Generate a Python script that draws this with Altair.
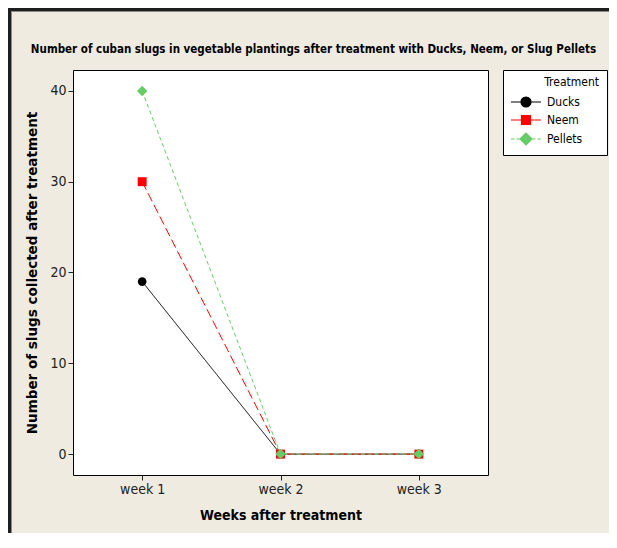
import altair as alt
import pandas as pd

# ---- data ----
weeks = ["week 1", "week 2", "week 3"]
treatments = ["Ducks", "Neem", "Pellets"]
ducks = [19, 0, 0]
neem = [30, 0, 0]
pellets = [40, 0, 0]
y_ticks = [0, 10, 20, 30, 40]

# ---- styles ----
series_colors = ["#000000", "#FF0000", "#66CC66"]
series_dashes = [[1, 0], [9, 4], [4, 3]]
series_shapes = ["circle", "square", "diamond"]
series_sizes = [75, 80, 110]
# legend symbols: line segments + marker (unit = 6px, symbol size 144)
legend_paths = [
    "M-1,0H0.667M2.333,0H4M0.667,0A0.833,0.833 0 1,0 2.333,0A0.833,0.833 0 1,0 0.667,0Z",
    "M-1,0H0.75M2.25,0H4M0.75,-0.75H2.25V0.75H0.75Z",
    "M-1,0H-0.417M-0.083,0H0.5M2.5,0H3.083M3.417,0H4M0.5,0L1.5,-1L2.5,0L1.5,1Z",
]

rows = []
for t, vals in zip(treatments, [ducks, neem, pellets]):
    for w, v in zip(weeks, vals):
        rows.append({"Week": w, "Count": v, "Treatment": t})
df = pd.DataFrame(rows)

NARROW = "Liberation Sans Narrow, DejaVu Sans Condensed, sans-serif"
BG = "#EFEBE1"

x_enc = alt.X(
    "Week:O",
    scale=alt.Scale(type="point", domain=weeks, padding=0.5),
    axis=alt.Axis(title="Weeks after treatment", labelAngle=0, titlePadding=12,
                  titleFont="DejaVu Sans Condensed", titleFontSize=14, titleFontWeight="bold"),
)
y_enc = alt.Y(
    "Count:Q",
    scale=alt.Scale(domain=[-2.3, 42.3], nice=False, zero=False),
    axis=alt.Axis(values=y_ticks, title="Number of slugs collected after treatment",
                  titlePadding=10, titleFont="DejaVu Sans", titleFontSize=13.5,
                  titleFontWeight="bold"),
)

base = alt.Chart(df)

line_layers = []
point_layers = []
for t, col, dash, shp, sz in zip(treatments, series_colors, series_dashes, series_shapes, series_sizes):
    sub = base.transform_filter(alt.datum.Treatment == t)
    line_layers.append(
        sub.mark_line(strokeWidth=1, color=col, strokeDash=dash).encode(x=x_enc, y=y_enc)
    )
    point_layers.append(
        sub.mark_point(filled=True, opacity=1, shape=shp, size=sz, color=col).encode(x=x_enc, y=y_enc)
    )

legend_title = "\u200b" + "\u00a0" * 10 + "Treatment"
legend_def = alt.Legend(title=legend_title, orient="none", legendX=430, legendY=0)
legend_layer = base.mark_point(opacity=0, filled=True, size=144).encode(
    x=x_enc, y=y_enc,
    color=alt.Color("Treatment:N", scale=alt.Scale(domain=treatments, range=series_colors), legend=legend_def),
    stroke=alt.Stroke("Treatment:N", scale=alt.Scale(domain=treatments, range=series_colors), legend=legend_def),
    shape=alt.Shape("Treatment:N", scale=alt.Scale(domain=treatments, range=legend_paths), legend=legend_def),
)

one = pd.DataFrame({"k": [0]})
frame_left = alt.Chart(one).mark_rule(color="#1E1E1E", strokeWidth=3).encode(
    x=alt.value(-63.5), y=alt.value(-62), y2=alt.value(470))
frame_top = alt.Chart(one).mark_rule(color="#1E1E1E", strokeWidth=3).encode(
    x=alt.value(-65), x2=alt.value(540), y=alt.value(-60.5))
frame_left2 = alt.Chart(one).mark_rule(color="#8A8A8A", strokeWidth=1).encode(
    x=alt.value(-61.5), y=alt.value(-59), y2=alt.value(470))
frame_top2 = alt.Chart(one).mark_rule(color="#8A8A8A", strokeWidth=1).encode(
    x=alt.value(-61.5), x2=alt.value(540), y=alt.value(-58.5))

chart = alt.layer(
    *line_layers, *point_layers, legend_layer, frame_left, frame_top, frame_left2, frame_top2
).properties(
    width=415, height=405,
    autosize=alt.AutoSizeParams(type="none"),
    padding={"left": 65, "top": 62, "right": 121, "bottom": 58},
    title=alt.TitleParams(
        "Number of cuban slugs in vegetable plantings after treatment with Ducks, Neem, or Slug Pellets",
        font=NARROW, fontSize=11.5, fontWeight="bold", color="#000000",
        anchor="middle", dx=33, offset=-58, baseline="alphabetic",
    ),
).configure(
    background=BG,
).configure_view(
    stroke="#000000", strokeWidth=1, fill="#FFFFFF",
).configure_axis(
    domain=False, grid=False, labelFont=NARROW, labelFontSize=14, labelColor="#222222",
    tickColor="#222222", tickSize=5, labelPadding=2, titleColor="#000000",
).configure_legend(
    labelFont=NARROW, labelFontSize=12, labelColor="#000000",
    titleFont=NARROW, titleFontSize=12, titleFontWeight="normal", titleColor="#000000",
    strokeColor="#000000", fillColor="#FFFFFF", padding=7, rowPadding=3,
    labelOffset=23, symbolSize=144, symbolOpacity=1, symbolStrokeWidth=1.2,
    titlePadding=6,
)

chart.save("out.html", embed_options={"renderer": "svg", "actions": False})
